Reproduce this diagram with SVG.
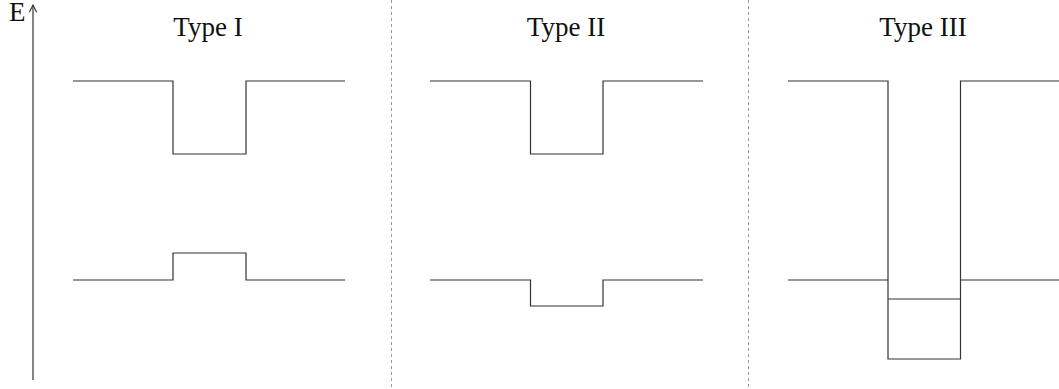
<svg xmlns="http://www.w3.org/2000/svg" width="1059" height="389" viewBox="0 0 1059 389">
<style>
.t{font-family:"Liberation Serif","Times New Roman",serif;font-size:27px;fill:#111;text-anchor:middle}
.b{fill:none;stroke:#333;stroke-width:1.2}
.d{fill:none;stroke:#999;stroke-width:1;stroke-dasharray:3,3}
</style>
<defs>
<marker id="ah" viewBox="0 0 10 10" refX="9" refY="5" markerWidth="9" markerHeight="9" markerUnits="userSpaceOnUse" orient="auto">
<path d="M1,1 L9,5 L1,9" fill="none" stroke="#333" stroke-width="1.2"/>
</marker>
</defs>
<g id="axis">
<line x1="33" y1="380" x2="33" y2="5" class="b" marker-end="url(#ah)"/>
<text x="9" y="21" class="t" style="text-anchor:start">E</text>
</g>
<g id="dividers">
<line x1="391.5" y1="0" x2="391.5" y2="389" class="d"/>
<line x1="748.5" y1="0" x2="748.5" y2="389" class="d"/>
</g>
<g id="type1">
<text x="208" y="36" class="t">Type I</text>
<polyline class="b" points="73,81 173,81 173,154 246,154 246,81 345,81"/>
<polyline class="b" points="73,280 173,280 173,253 246,253 246,280 345,280"/>
</g>
<g id="type2">
<text x="566" y="36" class="t">Type II</text>
<polyline class="b" points="430,81 530.5,81 530.5,154 603,154 603,81 703,81"/>
<polyline class="b" points="430,280 530.5,280 530.5,306 603,306 603,280 703,280"/>
</g>
<g id="type3">
<text x="923" y="36" class="t">Type III</text>
<polyline class="b" points="788,81 888,81 888,359 960.5,359 960.5,81 1059,81"/>
<line class="b" x1="788" y1="280" x2="888" y2="280"/>
<line class="b" x1="960.5" y1="280" x2="1059" y2="280"/>
<line class="b" x1="888" y1="299" x2="960.5" y2="299"/>
</g>
</svg>
